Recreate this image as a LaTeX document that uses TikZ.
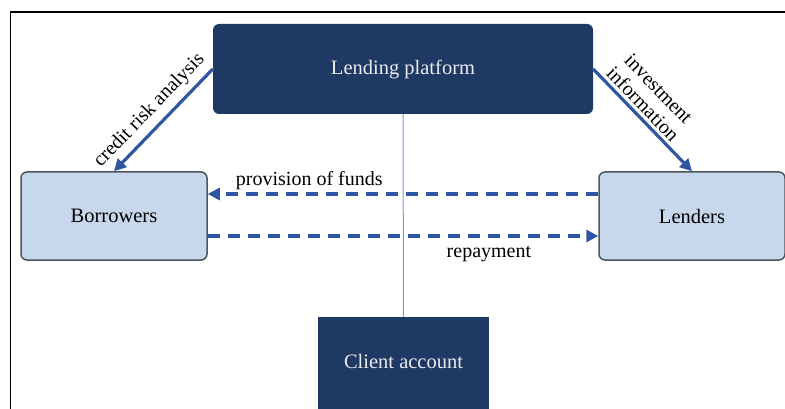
\documentclass[tikz,border=0pt]{standalone}
\usepackage{fontspec}
\setmainfont{Liberation Serif}
\usepackage{tikz}
\usetikzlibrary{
    positioning,
    arrows.meta
}
\definecolor{navy}{RGB}{31,57,101}
\definecolor{paleblue}{RGB}{199,215,236}
\definecolor{boxline}{RGB}{80,84,92}
\definecolor{flowblue}{RGB}{47,86,160}
\definecolor{thinblue}{RGB}{125,158,205}
\tikzset{
    % dark boxes
    darkbox/.style={
        rectangle,
        fill=navy,
        text=white!92!black,
        font=\fontsize{20.5}{22}\selectfont
    },
    % light boxes
    lightbox/.style={
        rectangle,
        rounded corners=6pt,
        draw=boxline,
        line width=1.5pt,
        fill=paleblue,
        minimum width=186pt,
        minimum height=88pt,
        font=\fontsize{20.5}{22}\selectfont
    },
    % arrows
    flow/.style={
        -{Triangle[length=12pt, width=12pt]},
        draw=flowblue,
        line width=3.2pt
    },
    dashflow/.style={
        flow,
        dash pattern=on 12pt off 8pt
    },
    lbl/.style={font=\fontsize{20}{20}\selectfont, inner sep=2pt}
}
\begin{document}
\begin{tikzpicture}[x=1pt, y=-1pt]
    \useasboundingbox (0,0) rectangle (785,409);
    \clip (0,0) rectangle (785,409);
    % frame
    \draw[line width=1.5pt] (10.5,420) -- (10.5,12) -- (800,12);

    % Boxes
    \node[darkbox, rounded corners=6pt, minimum width=380pt, minimum height=90pt] (platform) at (403,69) {Lending platform};
    \node[lightbox] (borrowers) at (114,216) {Borrowers};
    \node[lightbox] (lenders) at (692,216) {Lenders};
    \node[darkbox, minimum width=171pt, minimum height=100pt, text depth=0pt] (client) at (403.5,367) {\raisebox{12pt}{Client account}};

    % Links
    \draw[thinblue, line width=1pt] (platform.south) -- (client.north);
    \draw[flow] (platform.west) -- (borrowers.north)
        node[lbl, sloped, above=4pt, pos=0.52] {credit risk analysis};
    \draw[flow] (platform.east) -- (lenders.north)
        node[lbl, sloped, above=1pt, pos=0.42, align=center, font=\fontsize{20}{22}\selectfont] {investment\\information};
    \draw[dashflow] ([yshift=22pt]lenders.west) -- ([yshift=22pt]borrowers.east)
        node[lbl, above=1pt, pos=0.74] {provision of funds};
    \draw[dashflow] ([yshift=-20pt]borrowers.east) -- ([yshift=-20pt]lenders.west)
        node[lbl, below=7pt, pos=0.72] {repayment};

\end{tikzpicture}
\end{document}
